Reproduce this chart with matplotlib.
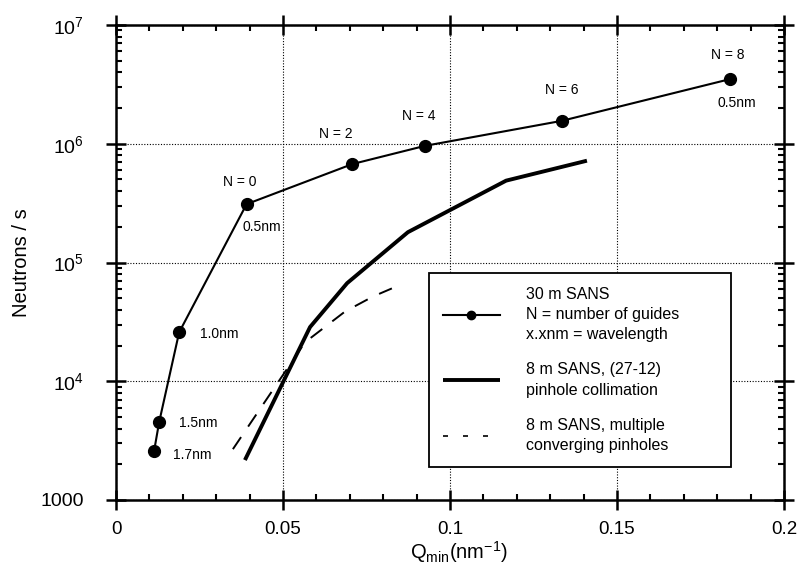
import matplotlib
matplotlib.use("Agg")
import matplotlib.pyplot as plt
from matplotlib.lines import Line2D
from matplotlib.ticker import FixedLocator, FuncFormatter, LogLocator, NullFormatter

plt.rcParams['font.family'] = ['Liberation Sans', 'DejaVu Sans']
plt.rcParams['mathtext.fontset'] = 'custom'
plt.rcParams['mathtext.rm'] = 'Liberation Sans'
plt.rcParams['mathtext.it'] = 'Liberation Sans:italic'
plt.rcParams['mathtext.bf'] = 'Liberation Sans:bold'

# 30 m SANS: flux versus minimum Q, one point per guide setting / wavelength
q_30m = [0.0114, 0.0129, 0.0189, 0.0391, 0.0708, 0.0925, 0.1335, 0.1838]
flux_30m = [2580, 4500, 25800, 3.1e5, 6.75e5, 9.6e5, 1.56e6, 3.5e6]
labels_30m = ["1.7nm", "1.5nm", "1.0nm", "N = 0", "N = 2", "N = 4", "N = 6", "N = 8"]

# 8 m SANS with (27-12) pinhole collimation
q_8m_pinhole = [0.0386, 0.0581, 0.0692, 0.0874, 0.1168, 0.141]
flux_8m_pinhole = [2170, 28600, 67000, 1.80e5, 4.89e5, 7.2e5]

# 8 m SANS with multiple converging pinholes
q_8m_multi = [0.035, 0.0566, 0.0686, 0.077, 0.0826]
flux_8m_multi = [2680, 21300, 38700, 51800, 60500]

x_ticks = [0, 0.05, 0.1, 0.15, 0.2]
x_tick_labels = ["0", "0.05", "0.1", "0.15", "0.2"]
y_ticks = [1e3, 1e4, 1e5, 1e6, 1e7]
y_tick_labels = ["1000", r"$10^{4}$", r"$10^{5}$", r"$10^{6}$", r"$10^{7}$"]

fig = plt.figure(figsize=(8.05, 5.75), dpi=100)
ax = fig.add_axes([116 / 805, 1 - 500 / 575, 668 / 805, 475 / 575])

ax.set_yscale('log')
ax.set_xlim(0, 0.2)
ax.set_ylim(1e3, 1e7)

line30, = ax.plot(q_30m, flux_30m, color='black', lw=1.5, marker='o',
                  markersize=8.5, zorder=4)
line8p, = ax.plot(q_8m_pinhole, flux_8m_pinhole, color='black', lw=2.8,
                  solid_capstyle='butt', zorder=3)
line8m, = ax.plot(q_8m_multi, flux_8m_multi, color='black', lw=1.4,
                  linestyle=(0, (7.5, 6.5)), zorder=3)

# point annotations: (text offset in points relative to the marker)
ann_fs = 10
offsets = {
    "1.7nm": (27.4, -2.9),
    "1.5nm": (28.0, -0.7),
    "1.0nm": (28.6, -1.4),
    "N = 0": (-4.8, 16.0),
    "N = 2": (-11.7, 21.8),
    "N = 4": (-4.3, 21.6),
    "N = 6": (0.0, 22.0),
    "N = 8": (-1.4, 17.5),
}
for q, f, lab in zip(q_30m, flux_30m, labels_30m):
    ax.annotate(lab, xy=(q, f), xytext=offsets[lab], textcoords='offset points',
                ha='center', va='center', fontsize=ann_fs)
# wavelength of the guide settings at both ends of the range
ax.annotate("0.5nm", xy=(q_30m[3], flux_30m[3]), xytext=(11.0, -16.3),
            textcoords='offset points', ha='center', va='center', fontsize=ann_fs)
ax.annotate("0.5nm", xy=(q_30m[7], flux_30m[7]), xytext=(5.0, -17.0),
            textcoords='offset points', ha='center', va='center', fontsize=ann_fs)

# axes, ticks and grid
ax.xaxis.set_major_locator(FixedLocator(x_ticks))
ax.xaxis.set_major_formatter(FuncFormatter(lambda v, p: x_tick_labels[x_ticks.index(min(x_ticks, key=lambda t: abs(t - v)))]))
ax.xaxis.set_minor_locator(FixedLocator([i * 0.01 for i in range(21)]))
ax.yaxis.set_major_locator(FixedLocator(y_ticks))
ax.yaxis.set_major_formatter(FuncFormatter(lambda v, p: y_tick_labels[y_ticks.index(min(y_ticks, key=lambda t: abs(t - v)))]))
ax.yaxis.set_minor_locator(LogLocator(base=10, subs=range(2, 10)))
ax.yaxis.set_minor_formatter(NullFormatter())

ax.tick_params(which='major', direction='inout', length=14, width=1.8,
               top=True, right=True, color='black')
ax.tick_params(axis='x', which='major', pad=8, labelsize=13.5)
ax.tick_params(axis='y', which='major', pad=16, labelsize=14)
ax.tick_params(which='minor', direction='in', length=4.5, width=1.5,
               top=True, right=True, color='black')

for s in ax.spines.values():
    s.set_linewidth(1.8)
    s.set_color('black')

ax.grid(True, which='major', color='black', lw=0.8, linestyle=(0, (1, 1.5)))
ax.set_axisbelow(True)

ax.set_ylabel("Neutrons / s", fontsize=14.5)
ax.yaxis.set_label_coords(-0.127, 0.5)
ax.set_xlabel(r"Q$_{\mathrm{min}}$(nm$^{\mathrm{-1}}$)", fontsize=14.5)
ax.xaxis.set_label_coords(0.513, -0.083)

# legend with multi-line descriptions
h30 = Line2D([], [], color='black', lw=1.5, marker='o', markersize=6)
h8p = Line2D([], [], color='black', lw=2.8, solid_capstyle='butt')
h8m = Line2D([], [], color='black', lw=1.2, linestyle=(0, (3, 9)))
leg = ax.legend([h30, h8p, h8m],
                ["30 m SANS\nN = number of guides\nx.xnm = wavelength",
                 "8 m SANS, (27-12)\npinhole collimation",
                 "8 m SANS, multiple\nconverging pinholes"],
                loc='upper left', bbox_to_anchor=(0.4686, 0.478, 0.452, 0.0),
                mode='expand', borderaxespad=0, fontsize=11.5, frameon=True,
                fancybox=False, edgecolor='black', framealpha=1,
                handlelength=3.6, handletextpad=1.6, labelspacing=1.25,
                borderpad=0.85)
leg.get_frame().set_linewidth(1.3)
for t in leg.get_texts():
    t.set_linespacing(1.45)

fig.savefig("out.png", dpi=100)
